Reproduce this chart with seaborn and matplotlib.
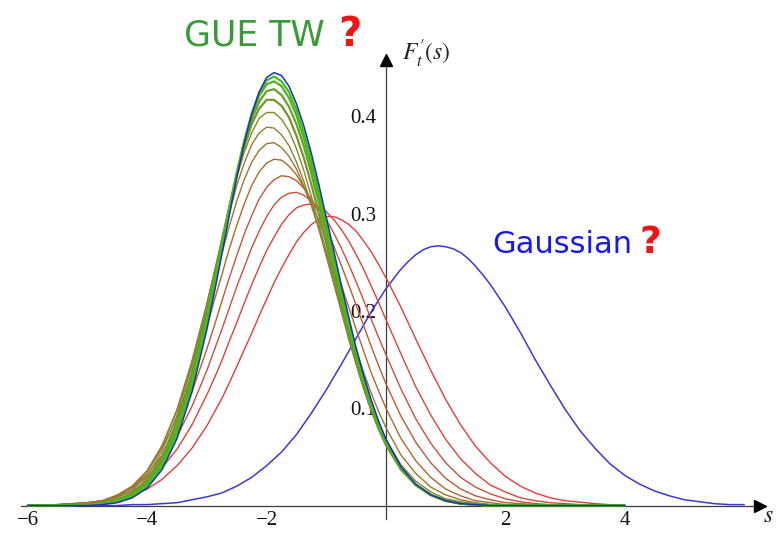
import numpy as np
import pandas as pd
import matplotlib
matplotlib.use("Agg")
import matplotlib.pyplot as plt
import seaborn as sns

# ---------------- data ----------------
S_FAMILY = [-6, -5.5, -5, -4.75, -4.5, -4.25, -4, -3.75, -3.5, -3.25,
            -3, -2.875, -2.75, -2.625, -2.5, -2.375, -2.25, -2.125, -2, -1.875,
            -1.75, -1.625, -1.5, -1.375, -1.25, -1.125, -1, -0.875, -0.75, -0.625,
            -0.5, -0.375, -0.25, -0.125, 0,
            0.25, 0.5, 0.75, 1, 1.25, 1.5, 1.75, 2, 2.25, 2.5, 2.75, 3, 3.5, 4]

F_T01 = [0.000, 0.001, 0.002, 0.004, 0.006, 0.011, 0.017, 0.027, 0.041, 0.059,
         0.082, 0.096, 0.110, 0.126, 0.143, 0.160, 0.177, 0.195, 0.212, 0.229,
         0.244, 0.258, 0.271, 0.281, 0.289, 0.294, 0.297, 0.297, 0.294, 0.289,
         0.282, 0.272, 0.261, 0.248, 0.234,
         0.204, 0.171, 0.139, 0.109, 0.083, 0.061, 0.044, 0.030, 0.020, 0.013, 0.008, 0.005, 0.002, 0.000]
F_T02 = [0.000, 0.001, 0.003, 0.005, 0.009, 0.015, 0.025, 0.039, 0.058, 0.083,
         0.114, 0.131, 0.149, 0.169, 0.188, 0.208, 0.227, 0.245, 0.262, 0.276,
         0.289, 0.299, 0.306, 0.309, 0.310, 0.307, 0.302, 0.294, 0.284, 0.272,
         0.258, 0.243, 0.226, 0.209, 0.191,
         0.156, 0.122, 0.093, 0.068, 0.048, 0.033, 0.021, 0.014, 0.008, 0.005, 0.003, 0.002, 0.000, 0.000]
F_T03 = [0.000, 0.001, 0.003, 0.005, 0.010, 0.018, 0.029, 0.047, 0.071, 0.102,
         0.139, 0.160, 0.181, 0.203, 0.225, 0.245, 0.265, 0.282, 0.297, 0.309,
         0.317, 0.321, 0.322, 0.319, 0.313, 0.305, 0.294, 0.280, 0.265, 0.248,
         0.230, 0.211, 0.192, 0.173, 0.155,
         0.120, 0.089, 0.064, 0.044, 0.029, 0.019, 0.012, 0.007, 0.004, 0.002, 0.001, 0.001, 0.000, 0.000]
F_T04 = [0.000, 0.001, 0.003, 0.005, 0.010, 0.019, 0.032, 0.052, 0.081, 0.117,
         0.161, 0.185, 0.210, 0.234, 0.257, 0.279, 0.298, 0.315, 0.327, 0.335,
         0.339, 0.338, 0.334, 0.326, 0.315, 0.301, 0.285, 0.267, 0.247, 0.227,
         0.206, 0.185, 0.164, 0.144, 0.125,
         0.092, 0.065, 0.044, 0.028, 0.017, 0.010, 0.006, 0.003, 0.002, 0.001, 0.000, 0.000, 0.000, 0.000]
F_T05 = [0.000, 0.000, 0.002, 0.005, 0.011, 0.020, 0.035, 0.059, 0.091, 0.134,
         0.184, 0.211, 0.237, 0.264, 0.288, 0.310, 0.329, 0.343, 0.352, 0.356,
         0.355, 0.349, 0.340, 0.327, 0.311, 0.293, 0.272, 0.250, 0.227, 0.204,
         0.181, 0.159, 0.137, 0.118, 0.100,
         0.069, 0.046, 0.029, 0.017, 0.010, 0.005, 0.003, 0.001, 0.001, 0.000, 0.000, 0.000, 0.000, 0.000]
F_T06 = [0.000, 0.000, 0.002, 0.005, 0.010, 0.020, 0.036, 0.062, 0.098, 0.145,
         0.200, 0.230, 0.259, 0.287, 0.313, 0.335, 0.353, 0.365, 0.372, 0.373,
         0.368, 0.359, 0.346, 0.328, 0.308, 0.285, 0.261, 0.236, 0.210, 0.185,
         0.160, 0.137, 0.116, 0.097, 0.080,
         0.052, 0.033, 0.019, 0.011, 0.006, 0.003, 0.001, 0.001, 0.000, 0.000, 0.000, 0.000, 0.000, 0.000]
F_T07 = [0.000, 0.000, 0.002, 0.004, 0.009, 0.019, 0.035, 0.061, 0.099, 0.149,
         0.208, 0.240, 0.271, 0.301, 0.329, 0.352, 0.371, 0.383, 0.389, 0.388,
         0.381, 0.370, 0.353, 0.333, 0.310, 0.284, 0.256, 0.228, 0.200, 0.173,
         0.148, 0.124, 0.103, 0.084, 0.068,
         0.042, 0.025, 0.014, 0.007, 0.004, 0.002, 0.001, 0.000, 0.000, 0.000, 0.000, 0.000, 0.000, 0.000]
F_T08 = [0.000, 0.000, 0.001, 0.003, 0.008, 0.016, 0.031, 0.056, 0.093, 0.144,
         0.207, 0.240, 0.274, 0.307, 0.337, 0.363, 0.383, 0.398, 0.404, 0.404,
         0.397, 0.385, 0.367, 0.344, 0.318, 0.290, 0.260, 0.230, 0.200, 0.171,
         0.145, 0.120, 0.098, 0.079, 0.063,
         0.038, 0.021, 0.011, 0.006, 0.003, 0.001, 0.000, 0.000, 0.000, 0.000, 0.000, 0.000, 0.000, 0.000]
F_T09 = [0.000, 0.000, 0.001, 0.003, 0.006, 0.013, 0.027, 0.050, 0.087, 0.137,
         0.201, 0.236, 0.272, 0.307, 0.340, 0.368, 0.392, 0.408, 0.417, 0.417,
         0.411, 0.399, 0.380, 0.357, 0.330, 0.300, 0.269, 0.237, 0.205, 0.175,
         0.147, 0.122, 0.099, 0.079, 0.062,
         0.037, 0.021, 0.011, 0.005, 0.002, 0.001, 0.000, 0.000, 0.000, 0.000, 0.000, 0.000, 0.000, 0.000]
F_T10 = [0.000, 0.000, 0.001, 0.002, 0.005, 0.012, 0.024, 0.046, 0.081, 0.131,
         0.195, 0.231, 0.269, 0.305, 0.340, 0.371, 0.397, 0.415, 0.426, 0.428,
         0.422, 0.410, 0.392, 0.369, 0.341, 0.311, 0.278, 0.245, 0.212, 0.181,
         0.152, 0.126, 0.102, 0.081, 0.064,
         0.038, 0.021, 0.011, 0.005, 0.002, 0.001, 0.000, 0.000, 0.000, 0.000, 0.000, 0.000, 0.000, 0.000]
F_T11 = [0.000, 0.000, 0.001, 0.002, 0.005, 0.010, 0.022, 0.043, 0.077, 0.127,
         0.192, 0.229, 0.268, 0.306, 0.342, 0.374, 0.401, 0.421, 0.433, 0.436,
         0.431, 0.419, 0.401, 0.377, 0.349, 0.318, 0.285, 0.251, 0.217, 0.185,
         0.156, 0.128, 0.104, 0.083, 0.065,
         0.038, 0.021, 0.011, 0.005, 0.002, 0.001, 0.000, 0.000, 0.000, 0.000, 0.000, 0.000, 0.000, 0.000]
F_T12 = [0.000, 0.000, 0.001, 0.002, 0.004, 0.009, 0.020, 0.040, 0.073, 0.123,
         0.188, 0.225, 0.264, 0.303, 0.341, 0.375, 0.403, 0.424, 0.437, 0.441,
         0.436, 0.425, 0.407, 0.383, 0.355, 0.323, 0.289, 0.255, 0.221, 0.188,
         0.158, 0.130, 0.106, 0.084, 0.066,
         0.039, 0.021, 0.011, 0.005, 0.002, 0.001, 0.000, 0.000, 0.000, 0.000, 0.000, 0.000, 0.000, 0.000]
TW_GUE = [0.000, 0.000, 0.000, 0.001, 0.003, 0.008, 0.018, 0.037, 0.069, 0.117,
          0.181, 0.219, 0.258, 0.298, 0.337, 0.372, 0.402, 0.425, 0.440, 0.445,
          0.442, 0.431, 0.413, 0.390, 0.362, 0.330, 0.296, 0.262, 0.227, 0.194,
          0.162, 0.134, 0.109, 0.087, 0.068,
          0.040, 0.022, 0.011, 0.005, 0.002, 0.001, 0.000, 0.000, 0.000, 0.000, 0.000, 0.000, 0.000, 0.000]

S_GAUSS = [-6, -5.75, -5.5, -5.25, -5, -4.75, -4.5, -4.25, -4, -3.75, -3.5, -3.25, -3,
           -2.75, -2.5, -2.25, -2, -1.75, -1.5, -1.25, -1, -0.75, -0.5, -0.25, 0,
           0.125, 0.25, 0.375, 0.5, 0.625, 0.75, 0.875, 1, 1.125, 1.25, 1.375, 1.5, 1.625,
           1.75, 2, 2.25, 2.5, 2.75, 3, 3.25, 3.5, 3.75, 4, 4.25, 4.5, 4.75, 5, 5.25, 5.5, 5.75, 6]
GAUSSIAN = [0.000, 0.000, 0.000, 0.000, 0.000, 0.000, 0.000, 0.001, 0.001, 0.002, 0.003, 0.006, 0.009,
            0.013, 0.020, 0.029, 0.041, 0.055, 0.073, 0.095, 0.119, 0.145, 0.172, 0.199, 0.223,
            0.233, 0.243, 0.251, 0.258, 0.263, 0.266, 0.267, 0.266, 0.264, 0.260, 0.254, 0.246, 0.237,
            0.227, 0.204, 0.178, 0.150, 0.124, 0.099, 0.077, 0.059, 0.043, 0.031, 0.022, 0.015, 0.010,
            0.006, 0.004, 0.002, 0.001, 0.001]

FAMILY = [F_T01, F_T02, F_T03, F_T04, F_T05, F_T06, F_T07, F_T08, F_T09, F_T10, F_T11, F_T12]

X_MAJOR = [-6, -4, -2, 2, 4]
X_MAJOR_LABELS = ["\u22126", "\u22124", "\u22122", "2", "4"]
Y_MAJOR = [0.1, 0.2, 0.3, 0.4]
Y_MAJOR_LABELS = ["0.1", "0.2", "0.3", "0.4"]

# ---------------- style ----------------
sns.set_style("white")
plt.rcParams["font.family"] = ["Liberation Serif", "DejaVu Serif"]
plt.rcParams["mathtext.fontset"] = "stix"

W, H = 777, 534
fig = plt.figure(figsize=(W / 100, H / 100), dpi=100)
ax = fig.add_axes([0.00504, 0.00217, 0.99116, 0.9074])
ax.set_xlim(-6.4, 6.5)
ax.set_ylim(-0.028, 0.47)
ax.patch.set_alpha(0)

RED = np.array([0.88, 0.24, 0.24])
GREEN = np.array([0.22, 0.78, 0.12])
BLEND = [0.0, 0.06, 0.13, 0.22, 0.32, 0.40, 0.48, 0.56, 0.64, 0.74, 0.84, 0.94]


def draw(xs, ys, color, lw, z):
    df = pd.DataFrame({"s": xs, "f": ys})
    sns.lineplot(data=df, x="s", y="f", ax=ax, color=color, lw=lw, zorder=z,
                 estimator=None, errorbar=None, sort=False, legend=False)


draw(S_GAUSS, GAUSSIAN, "#3a3ad0", 1.1, 3)
for i, (vals, t) in enumerate(zip(FAMILY, BLEND)):
    col = tuple((1 - t) * RED + t * GREEN)
    lw = 1.0 if t < 0.6 else 1.6
    draw(S_FAMILY, vals, col, lw, 4 + i * 0.1)
draw(S_FAMILY, TW_GUE, "#2030b0", 1.1, 6)

ax.set_xlabel("")
ax.set_ylabel("")

# Mathematica style axes through the origin
for side in ["top", "right"]:
    ax.spines[side].set_visible(False)
axcol = "#3c3c3c"
ax.spines["left"].set_position(("data", 0))
ax.spines["bottom"].set_position(("data", 0))
ax.spines["left"].set_bounds(-0.014, 0.455)
ax.spines["bottom"].set_bounds(-6.12, 6.2)
for side in ["left", "bottom"]:
    ax.spines[side].set_color(axcol)
    ax.spines[side].set_linewidth(0.9)
ax.plot([6.27], [0], marker=">", color="black", markersize=9, clip_on=False, zorder=10)
ax.plot([0], [0.458], marker="^", color="black", markersize=9, clip_on=False, zorder=10)

ax.set_xticks(X_MAJOR)
ax.set_xticklabels(X_MAJOR_LABELS)
ax.set_xticks([v / 2 for v in range(-12, 12) if v % 4 != 0], minor=True)
ax.set_yticks(Y_MAJOR)
ax.set_yticklabels(Y_MAJOR_LABELS)
ax.set_yticks([v / 100 for v in range(2, 46, 2) if v % 10 != 0], minor=True)
ax.tick_params(axis="both", which="major", direction="in", length=7.5, width=0.8,
               color=axcol, labelsize=15, labelcolor="#111111")
ax.tick_params(axis="both", which="minor", direction="in", length=4.5, width=0.8, color=axcol)
ax.tick_params(axis="x", which="major", pad=4)
ax.tick_params(axis="y", which="major", pad=7)

# axis labels
fig.text(402 / W, 1 - 61 / H, r"$F^{\prime}_{t}(s)$", fontsize=17, color="#222222",
         ha="left", va="baseline")
fig.text(763 / W, 1 - 522 / H, r"$s$", fontsize=17, color="#222222", ha="left", va="baseline")

# annotations
fig.text(184 / W, 1 - 46 / H, "GUE TW", fontsize=25, color="#3a9a3a",
         family="DejaVu Sans", ha="left", va="baseline")
fig.text(338 / W, 1 - 46 / H, "?", fontsize=29, color="#f01515", fontweight="bold",
         family="DejaVu Sans", ha="left", va="baseline")
fig.text(492 / W, 1 - 253 / H, "Gaussian", fontsize=22, color="#1818ee",
         family="DejaVu Sans", ha="left", va="baseline")
fig.text(639 / W, 1 - 253 / H, "?", fontsize=27, color="#f01515", fontweight="bold",
         family="DejaVu Sans", ha="left", va="baseline")

fig.savefig("out.png", dpi=100)
